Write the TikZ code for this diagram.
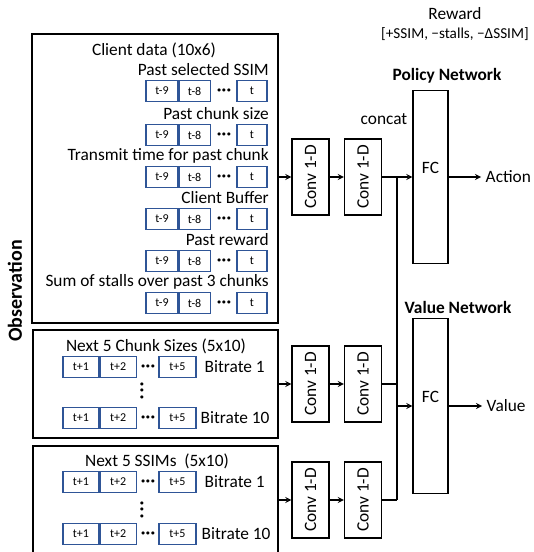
\documentclass[tikz,border=0pt]{standalone}
\usepackage{fontspec}
\setmainfont{Carlito}
\usetikzlibrary{arrows}
\definecolor{cellblue}{RGB}{47,85,151}

\tikzset{
  txt/.style={font=\fontsize{13}{15}\selectfont},
  bigbox/.style={draw,line width=1pt,inner sep=0pt},
  cell/.style={draw=cellblue,line width=0.8pt,minimum height=15.75pt,inner sep=0pt,font=\fontsize{9}{10}\selectfont},
  ellip/.style={inner sep=0pt,font=\fontsize{5.5}{5}\selectfont\bfseries},
  vellip/.style={inner sep=0pt,align=center,font=\fontsize{5.5}{4.9}\selectfont\bfseries},
  conv/.style={draw,line width=1pt,rotate=90,minimum width=57pt,minimum height=27.75pt,inner sep=0pt,font=\fontsize{13}{15}\selectfont},
  fc/.style={draw,line width=1pt,minimum width=26.25pt,inner sep=0pt},
  link/.style={line width=1pt},
  arr/.style={line width=1pt,-stealth}
}

\begin{document}
\begin{tikzpicture}[x=0.75pt,y=-0.75pt]
\useasboundingbox (0,0) rectangle (534,552);

% observation boxes
\node[bigbox,minimum width=184.5pt,minimum height=216.75pt] (client) at (155,178.5) {};
\node[bigbox,minimum width=183.75pt,minimum height=81pt] (chunk) at (155.5,384) {};
\node[bigbox,minimum width=183.75pt,minimum height=120pt] (ssim) at (155.5,526) {};
\node[txt,rotate=90,font=\fontsize{15}{17}\selectfont\bfseries] (obs) at (15,291) {Observation};

% client data
\node[txt] (ctitle) at (154,50) {Client data (10x6)};
\foreach \ry/\lab [count=\i] in {91/Past selected SSIM,135/Past chunk size,177/Transmit time for past chunk,219/Client Buffer,261/Past reward,303/Sum of stalls over past 3 chunks}{
  \node[txt,anchor=east,inner sep=0pt] (lab\i) at (269,\ry-21) {\lab};
  \node[cell,minimum width=24pt] (a\i) at (162,\ry) {t-9};
  \node[cell,minimum width=23.25pt,anchor=west] (b\i) at (a\i.east) {t-8};
  \node[ellip] (d\i) at (224,\ry) {•\,•\,•};
  \node[cell,minimum width=22.5pt] (e\i) at (252,\ry) {t};
}

% next chunk sizes / next ssims
\node[txt] (ktitle) at (156,346) {Next 5 Chunk Sizes (5x10)};
\node[txt] (stitle) at (157,461) {Next 5 SSIMs~ (5x10)};
\foreach \g/\ry/\br/\bx in {k1/367/1/200,k2/418/10/196,s1/482/1/200,s2/534/10/197}{
  \node[cell,minimum width=27pt] (\g a) at (81,\ry) {t+1};
  \node[cell,minimum width=27pt,anchor=west] (\g b) at (\g a.east) {t+2};
  \node[ellip] (\g d) at (148,\ry) {•\,•\,•};
  \node[cell,minimum width=27.75pt] (\g e) at (177.5,\ry) {t+5};
  \node[txt,anchor=west] (\g r) at (\bx,\ry) {Bitrate \br};
}
\node[vellip] (kvd) at (142,391) {•\\•\\•};
\node[vellip] (svd) at (142,510) {•\\•\\•};

% conv layers
\node[conv] (cv1) at (310.5,177) {Conv 1-D};
\node[conv] (cv2) at (363,177) {Conv 1-D};
\node[conv] (kv1) at (310.5,384) {Conv 1-D};
\node[conv] (kv2) at (363,384) {Conv 1-D};
\node[conv] (sv1) at (310.5,500) {Conv 1-D};
\node[conv] (sv2) at (363,500) {Conv 1-D};

% fully connected
\node[fc,minimum height=129.75pt] (fcp) at (430.5,177) {};
\node[txt] (fcptxt) at (430.5,168) {FC};
\node[fc,minimum height=131.25pt] (fcv) at (430.5,406) {};
\node[txt] (fcvtxt) at (430.5,397) {FC};

\node[txt,font=\fontsize{13}{15}\selectfont\bfseries] (pnet) at (447,76) {Policy Network};
\node[txt,font=\fontsize{13}{15}\selectfont\bfseries] (vnet) at (458,307) {Value Network};
\node[txt] (concat) at (384,119) {concat};
\node[txt] (reward) at (455,14) {Reward};
\node[font=\fontsize{11.4}{13}\selectfont] (rterms) at (455,34) {[+SSIM, −stalls, −ΔSSIM]};
\node[txt,anchor=west] (act) at (481,177) {Action};
\node[txt,anchor=west] (val) at (482,406) {Value};

\coordinate (jtop) at (397,177);
\coordinate (jbot) at (397,500);

\draw[arr] (client.east |- cv1) -- (cv1);
\draw[arr] (cv1) -- (cv2);
\draw[arr] (chunk.east |- kv1) -- (kv1);
\draw[arr] (kv1) -- (kv2);
\draw[arr] (ssim.east |- sv1) -- (sv1);
\draw[arr] (sv1) -- (sv2);

\draw[link] (cv2) -- (jtop);
\draw[link] (kv2) -- (kv2 -| jtop);
\draw[link] (sv2) -- (jbot);
\draw[link] (jtop) -- (jbot);
\draw[arr] (jtop) -- (fcp);
\draw[arr] (jtop |- fcv) -- (fcv);
\draw[arr] (fcp) -- (act);
\draw[arr] (fcv) -- (val);

\end{tikzpicture}
\end{document}
